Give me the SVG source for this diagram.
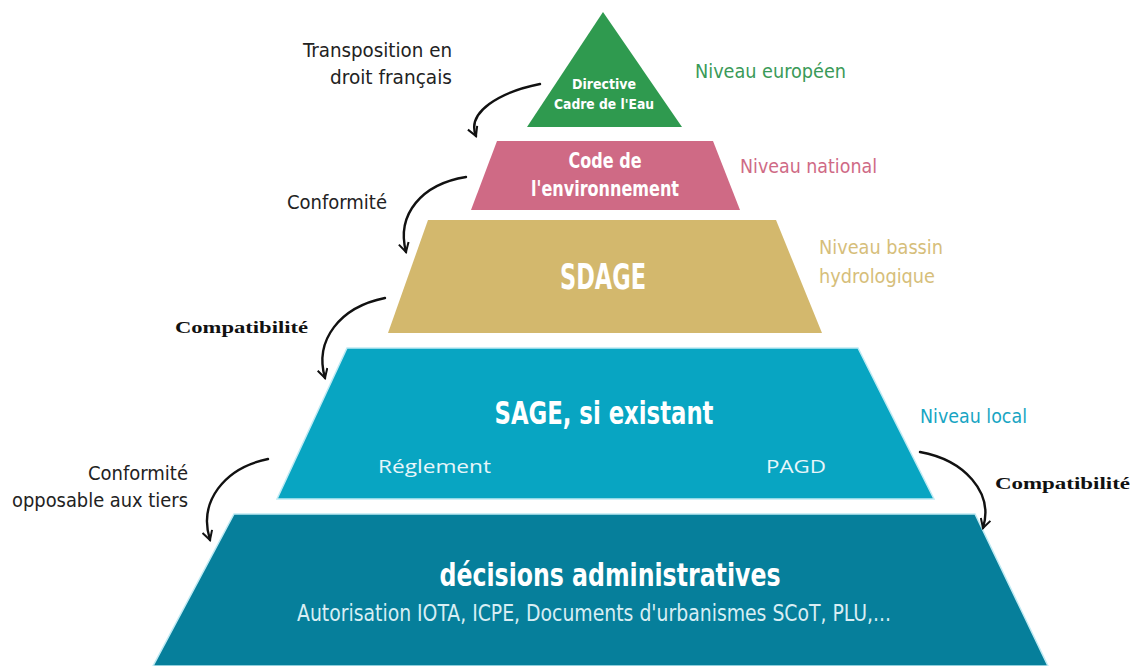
<svg xmlns="http://www.w3.org/2000/svg" width="1132" height="666" viewBox="0 0 1132 666">
<style>
.c{font-family:"DejaVu Sans Condensed","Roboto","Liberation Sans",sans-serif;}
.w{fill:#ffffff;font-weight:bold;text-anchor:middle;}
.lbl{font-size:20px;fill:#222;}
.ser{font-family:"Liberation Serif",serif;font-weight:bold;font-size:17px;fill:#111;}
.conn path{fill:none;stroke:#111;stroke-width:2.4;stroke-linecap:round;}
</style>
<defs>
<marker id="ah" viewBox="0 0 12 12" refX="10" refY="6" markerWidth="12" markerHeight="12" markerUnits="userSpaceOnUse" orient="auto">
<path d="M1 1 L10 6 L1 11" fill="none" stroke="#111" stroke-width="2"/>
</marker>
</defs>
<rect width="1132" height="666" fill="#ffffff"/>

<g id="dce">
<polygon points="603,12 682,127 527,127" fill="#2f9a4f"/>
<text class="c w" x="604" y="89" font-size="14" textLength="64" lengthAdjust="spacingAndGlyphs">Directive</text>
<text class="c w" x="604" y="109" font-size="14" textLength="100" lengthAdjust="spacingAndGlyphs">Cadre de l'Eau</text>
</g>
<g id="code">
<polygon points="497,141 713,141 740,210 471,210" fill="#cf6a85"/>
<text class="c w" x="605" y="168" font-size="21" textLength="73" lengthAdjust="spacingAndGlyphs">Code de</text>
<text class="c w" x="605" y="196" font-size="21" textLength="148" lengthAdjust="spacingAndGlyphs">l'environnement</text>
</g>
<g id="sdage">
<polygon points="428,220 776,220 822,333 388,333" fill="#d3b86d"/>
<text class="c w" x="603" y="289" font-size="35" textLength="86" lengthAdjust="spacingAndGlyphs">SDAGE</text>
</g>
<g id="sage">
<polygon points="347,348 858,348 934,499 277,499" fill="#08a5c2" stroke="#bfeaf3" stroke-width="1.5"/>
<text class="c w" x="604" y="424" font-size="32" textLength="219" lengthAdjust="spacingAndGlyphs">SAGE, si existant</text>
<text x="378" y="473" font-family="'Open Sans','Liberation Sans',sans-serif" font-size="18" fill="#e8f6fa" textLength="113" lengthAdjust="spacingAndGlyphs">Réglement</text>
<text x="766" y="473" font-family="'Open Sans','Liberation Sans',sans-serif" font-size="18" fill="#e8f6fa" textLength="60" lengthAdjust="spacingAndGlyphs">PAGD</text>
</g>
<g id="decisions">
<polygon points="234,514 975,514 1048,666 153,666" fill="#067f9b" stroke="#bfeaf3" stroke-width="1.5"/>
<text class="c w" x="610" y="586" font-size="32" textLength="341" lengthAdjust="spacingAndGlyphs">décisions administratives</text>
<text class="c" x="594" y="621" font-size="23" fill="#d8eef4" text-anchor="middle" textLength="594" lengthAdjust="spacingAndGlyphs">Autorisation IOTA, ICPE, Documents d'urbanismes SCoT, PLU,...</text>
</g>

<g id="levels">
<text class="c" x="695" y="78" font-size="20" fill="#3a9a58" textLength="151" lengthAdjust="spacingAndGlyphs">Niveau européen</text>
<text class="c" x="740" y="173" font-size="20" fill="#cf6a85" textLength="137" lengthAdjust="spacingAndGlyphs">Niveau national</text>
<text class="c" x="819" y="254" font-size="20" fill="#d6be7a" textLength="124" lengthAdjust="spacingAndGlyphs">Niveau bassin</text>
<text class="c" x="819" y="283" font-size="20" fill="#d6be7a" textLength="116" lengthAdjust="spacingAndGlyphs">hydrologique</text>
<text class="c" x="920" y="423" font-size="20" fill="#17a5c3" textLength="107" lengthAdjust="spacingAndGlyphs">Niveau local</text>
</g>

<g id="connectors" class="conn">
<path d="M540 84 C500 92 466 112 476 136" marker-end="url(#ah)"/>
<path d="M466 177 C422 184 396 214 406 252" marker-end="url(#ah)"/>
<path d="M385 298 C340 307 314 340 325 378" marker-end="url(#ah)"/>
<path d="M268 459 C224 468 198 502 210 540" marker-end="url(#ah)"/>
<path d="M920 452 C964 460 994 492 983 528" marker-end="url(#ah)"/>
</g>

<g id="connector-labels">
<text class="c lbl" x="452" y="57" text-anchor="end" textLength="149" lengthAdjust="spacingAndGlyphs">Transposition en</text>
<text class="c lbl" x="452" y="84" text-anchor="end" textLength="122" lengthAdjust="spacingAndGlyphs">droit français</text>
<text class="c lbl" x="287" y="209" textLength="100" lengthAdjust="spacingAndGlyphs">Conformité</text>
<text class="ser" x="175" y="333" textLength="133" lengthAdjust="spacingAndGlyphs">Compatibilité</text>
<text class="c lbl" x="188" y="480" text-anchor="end" textLength="100" lengthAdjust="spacingAndGlyphs">Conformité</text>
<text class="c lbl" x="188" y="507" text-anchor="end" textLength="176" lengthAdjust="spacingAndGlyphs">opposable aux tiers</text>
<text class="ser" x="995" y="489" textLength="135" lengthAdjust="spacingAndGlyphs">Compatibilité</text>
</g>
</svg>
